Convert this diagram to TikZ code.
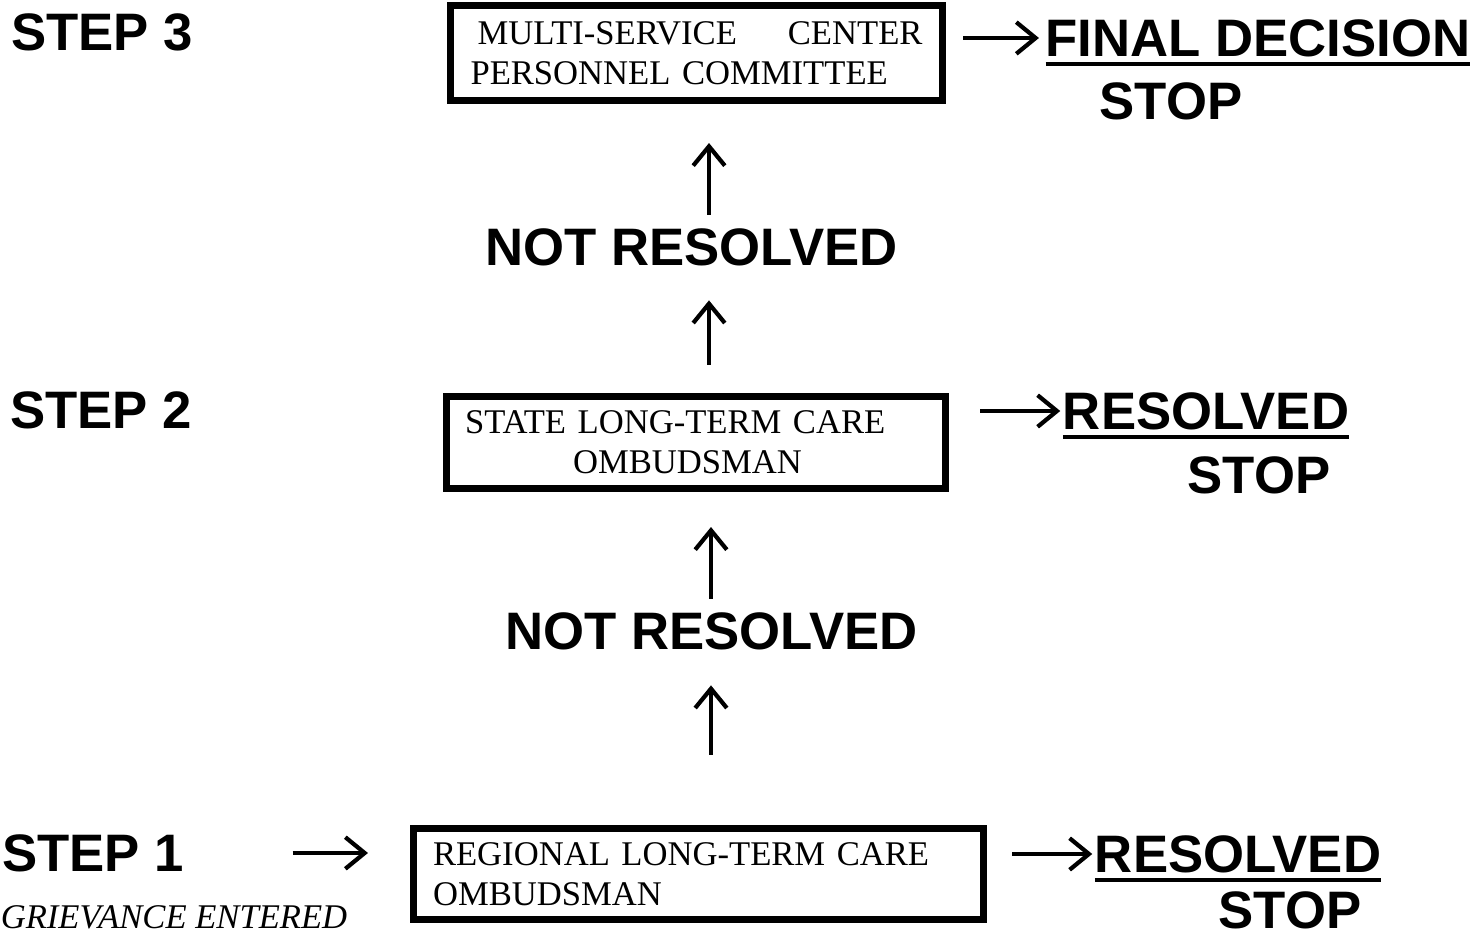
\documentclass[tikz,border=0pt]{standalone}
\usepackage{fontspec}
\setmainfont{Liberation Serif}
\setsansfont{Liberation Sans}
\usetikzlibrary{arrows.meta}
\newcommand{\ulword}[1]{\setbox0\hbox{#1}\rlap{\smash{\rule[-2.8pt]{\wd0}{1.2pt}}}\box0}
\tikzset{
  stepbox/.style={draw, line width=2pt, inner sep=0pt, align=left, font=\fontsize{9.85pt}{11.4pt}\selectfont},
  steplbl/.style={inner sep=0pt, font=\fontsize{15pt}{18pt}\selectfont\sffamily\bfseries},
  flowarr/.style={-{Straight Barb[length=5.5pt,width=9pt]}, line width=1.2pt}
}

\begin{document}
\begin{tikzpicture}
        \useasboundingbox (0,0) rectangle (14.72,9.35);

        \node[steplbl] (step3) at (1.02,9.03) {STEP 3};
        \node[steplbl] (step2) at (1.01,5.25) {STEP 2};
        \node[steplbl] (step1) at (0.93,0.82) {STEP 1};
        \node[inner sep=0pt, font=\fontsize{9.85pt}{11.4pt}\selectfont\itshape] (entered) at (1.74,0.18) {GRIEVANCE ENTERED};

        \node[stepbox, minimum width=4.92cm, minimum height=0.95cm, text width=4.52cm] (box3) at (6.965,8.82) {\hspace*{0.07cm}\makebox[4.45cm]{MULTI-SERVICE\hfill CENTER}\\PERSONNEL COMMITTEE};
        \node[stepbox, minimum width=4.99cm, minimum height=0.92cm, text width=4.62cm] (box2) at (6.96,4.925) {STATE LONG-TERM CARE\\\hspace*{1.08cm}OMBUDSMAN};
        \node[stepbox, minimum width=5.70cm, minimum height=0.91cm, text width=5.31cm] (box1) at (6.985,0.61) {REGIONAL LONG-TERM CARE\\OMBUDSMAN};

        \node[steplbl] (notres1) at (6.915,6.88) {NOT RESOLVED};
        \node[steplbl] (notres2) at (7.115,3.04) {NOT RESOLVED};

        \node[steplbl] (final) at (12.58,8.97) {\ulword{FINAL DECISION}};
        \node[steplbl] (stop3) at (11.71,8.34) {STOP};
        \node[steplbl] (res2) at (12.06,5.24) {\ulword{RESOLVED}};
        \node[steplbl] (stop2) at (12.59,4.60) {STOP};
        \node[steplbl] (res1) at (12.38,0.81) {\ulword{RESOLVED}};
        \node[steplbl] (stop1) at (12.90,0.245) {STOP};

        \coordinate (up2) at ([xshift=0.13cm]box2.north);
        \coordinate (up1) at ([xshift=0.125cm]box1.north);

        \draw[flowarr, shorten <=1.08cm, shorten >=0.42cm] (step1.east) -- (step1.east -| box1.west);
        \draw[flowarr, shorten <=0.25cm, shorten >=0.02cm] (box1.east |- res1.west) -- (res1.west);
        \draw[flowarr, shorten <=0.31cm, shorten >=0.02cm] (box2.east |- res2.west) -- (res2.west);
        \draw[flowarr, shorten <=0.17cm, shorten >=0.06cm] (box3.east |- final.west) -- (final.west);

        \draw[flowarr, shorten <=0.70cm, shorten >=0.35cm] (up1) -- (up1 |- notres2.south);
        \draw[flowarr, shorten <=0.13cm, shorten >=0.35cm] (up1 |- notres2.north) -- (up1 |- box2.south);
        \draw[flowarr, shorten <=0.28cm, shorten >=0.34cm] (up2) -- (up2 |- notres1.south);
        \draw[flowarr, shorten <=0.13cm, shorten >=0.39cm] (up2 |- notres1.north) -- (up2 |- box3.south);
\end{tikzpicture}
\end{document}
